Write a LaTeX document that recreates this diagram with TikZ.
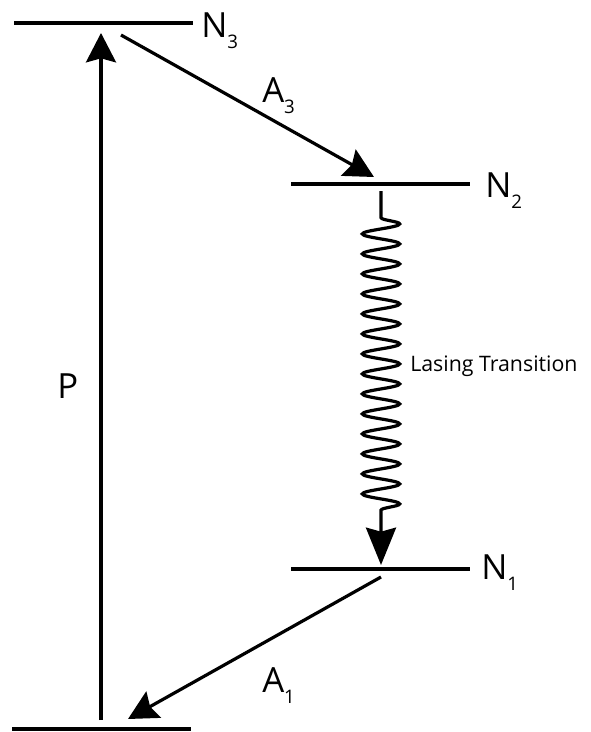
\documentclass[tikz,border=0pt]{standalone}
\usepackage{fontspec}
\setmainfont{Open Sans}
\usetikzlibrary{arrows.meta,decorations.pathmorphing}
\newcommand{\levelname}[2]{#1\raisebox{-8.5pt}{\fontsize{14}{14}\selectfont #2}}
\begin{document}
\begin{tikzpicture}[x=0.75pt,y=-0.75pt,
  level/.style={line width=2.4pt},
  trans/.style={line width=2.4pt,-{Stealth[length=22pt,width=22.5pt,inset=3pt]}},
  lbl/.style={anchor=base west,inner sep=0pt,font=\fontsize{26}{26}\selectfont},
  small/.style={anchor=base west,inner sep=0pt,font=\fontsize{16}{18}\selectfont}]
\useasboundingbox (0,0) rectangle (590,732);
% level end points
\coordinate (l3a) at (14,23);   \coordinate (l3b) at (193,23);
\coordinate (l2a) at (291,184); \coordinate (l2b) at (470,184);
\coordinate (l1a) at (291,569); \coordinate (l1b) at (470,569);
\coordinate (l0a) at (12,729);  \coordinate (l0b) at (191,729);
\draw[level] (l3a) -- (l3b);
\draw[level] (l2a) -- (l2b);
\draw[level] (l1a) -- (l1b);
\draw[level] (l0a) -- (l0b);
% labels
\node[lbl] (n3) at (201,37) {\levelname{N}{3}};
\node[lbl] (n2) at (485,197) {\levelname{N}{2}};
\node[lbl] (n1) at (481,579) {\levelname{N}{1}};
\node[lbl] (p) at (57,398) {P};
\node[lbl] (a3) at (262,102) {\levelname{A}{3}};
\node[lbl] (a1) at (262,692) {\levelname{A}{1}};
\node[small] (lt) at (410,371) {Lasing Transition};
% transitions
\coordinate (pbot) at (101,720); \coordinate (ptop) at (101,33);
\draw[trans] (pbot) -- (ptop);
\coordinate (a3s) at (121,35); \coordinate (a3e) at (374,177);
\draw[trans] (a3s) -- (a3e);
\coordinate (a1s) at (381,577); \coordinate (a1e) at (128,719);
\draw[trans] (a1s) -- (a1e);
\coordinate (ws) at (381,191); \coordinate (we) at (381,565);
\draw[line width=2.4pt,-{Stealth[length=28pt,width=22.5pt,inset=3pt]},
  decorate,decoration={snake,segment length=15pt,amplitude=14pt,
  pre length=20pt,post length=36pt}] (ws) -- (we);
\end{tikzpicture}
\end{document}
